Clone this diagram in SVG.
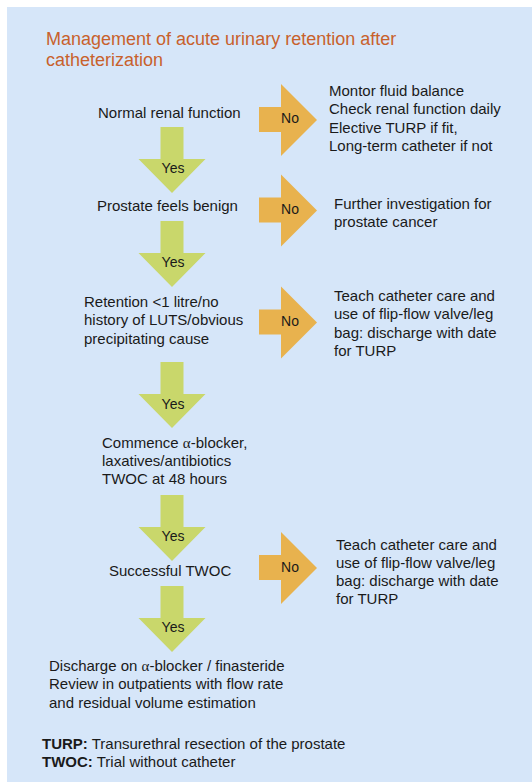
<svg xmlns="http://www.w3.org/2000/svg" width="532" height="782" viewBox="0 0 532 782">
<defs>
<style>
text{font-family:"Liberation Sans",Arial,sans-serif;fill:#1a1a1a}
.t{font-size:15px}
.title{font-size:18px;fill:#C8612C}
.lbl{font-size:14px;text-anchor:middle}
.b{font-weight:bold}
.al{font-family:"Liberation Serif","DejaVu Serif",serif}
.yes{fill:#C9D76B}
.no{fill:#E8B24E}
</style>
<path id="yesArrow" d="M -11.5 0 H 11.5 V 32 H 33.5 L 0 66 L -33.5 32 H -11.5 Z"/>
<path id="noArrow" d="M 0 -13 H 22 V -36 L 58 0 L 22 36 V 12 H 0 Z"/>
</defs>
<rect x="0" y="0" width="532" height="782" fill="#ffffff"/>
<rect x="7" y="7" width="525" height="775" fill="#D6E6F9"/>
<g id="title">
<text class="title" x="46" y="45">Management of acute urinary retention after</text>
<text class="title" x="46" y="66">catheterization</text>
</g>
<g id="connectors">
<use href="#yesArrow" class="yes" transform="translate(172,127)"/>
<text class="lbl" x="173" y="173">Yes</text>
<use href="#yesArrow" class="yes" transform="translate(172,221)"/>
<text class="lbl" x="173" y="267">Yes</text>
<use href="#yesArrow" class="yes" transform="translate(172,362)"/>
<text class="lbl" x="173" y="409">Yes</text>
<use href="#yesArrow" class="yes" transform="translate(172,495)"/>
<text class="lbl" x="173" y="541">Yes</text>
<use href="#yesArrow" class="yes" transform="translate(172,586)"/>
<text class="lbl" x="173" y="632">Yes</text>
<use href="#noArrow" class="no" transform="translate(259,120)"/>
<text class="lbl" x="290" y="123">No</text>
<use href="#noArrow" class="no" transform="translate(259,210.5)"/>
<text class="lbl" x="290" y="214">No</text>
<use href="#noArrow" class="no" transform="translate(259,322.5)"/>
<text class="lbl" x="290" y="326">No</text>
<use href="#noArrow" class="no" transform="translate(259,568)"/>
<text class="lbl" x="290" y="572">No</text>
</g>
<g id="n-renal"><text class="t" x="98" y="118">Normal renal function</text></g>
<g id="n-renal-no">
<text class="t" x="329" y="96">Montor fluid balance</text>
<text class="t" x="329" y="114.3">Check renal function daily</text>
<text class="t" x="329" y="132.6">Elective TURP if fit,</text>
<text class="t" x="329" y="150.9">Long-term catheter if not</text>
</g>
<g id="n-prostate"><text class="t" x="97" y="211">Prostate feels benign</text></g>
<g id="n-prostate-no">
<text class="t" x="334" y="209">Further investigation for</text>
<text class="t" x="334" y="227.3">prostate cancer</text>
</g>
<g id="n-retention">
<text class="t" x="84" y="307">Retention &lt;1 litre/no</text>
<text class="t" x="84" y="325.3">history of LUTS/obvious</text>
<text class="t" x="84" y="343.6">precipitating cause</text>
</g>
<g id="n-retention-no">
<text class="t" x="334" y="301">Teach catheter care and</text>
<text class="t" x="334" y="319.3">use of flip-flow valve/leg</text>
<text class="t" x="334" y="337.6">bag: discharge with date</text>
<text class="t" x="334" y="355.9">for TURP</text>
</g>
<g id="n-commence">
<text class="t" x="102" y="447.5">Commence <tspan class="al">α</tspan>-blocker,</text>
<text class="t" x="102" y="465.8">laxatives/antibiotics</text>
<text class="t" x="102" y="484.1">TWOC at 48 hours</text>
</g>
<g id="n-twoc"><text class="t" x="109" y="576">Successful TWOC</text></g>
<g id="n-twoc-no">
<text class="t" x="336" y="549.5">Teach catheter care and</text>
<text class="t" x="336" y="567.8">use of flip-flow valve/leg</text>
<text class="t" x="336" y="586.1">bag: discharge with date</text>
<text class="t" x="336" y="604.4">for TURP</text>
</g>
<g id="n-discharge">
<text class="t" x="49" y="671">Discharge on <tspan class="al">α</tspan>-blocker / finasteride</text>
<text class="t" x="49" y="689.3">Review in outpatients with flow rate</text>
<text class="t" x="49" y="707.6">and residual volume estimation</text>
</g>
<g id="legend">
<text class="t" x="42" y="748.5"><tspan class="b">TURP:</tspan> Transurethral resection of the prostate</text>
<text class="t" x="42" y="766.8"><tspan class="b">TWOC:</tspan> Trial without catheter</text>
</g>
</svg>
